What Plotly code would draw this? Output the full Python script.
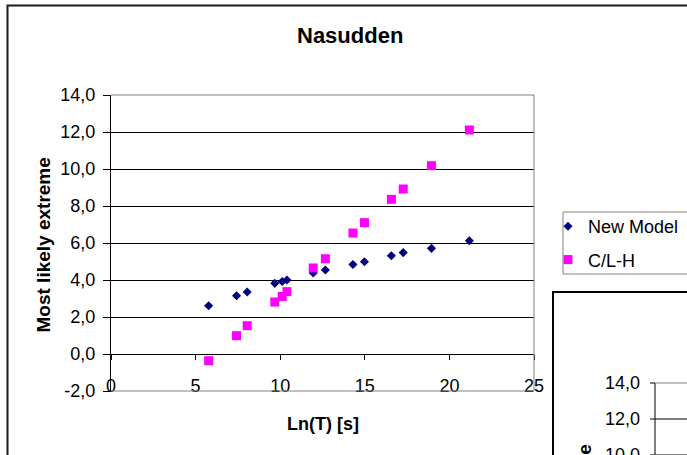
import plotly.graph_objects as go

# ---- data ----
ln_t = [5.77, 7.42, 8.05, 9.68, 10.12, 10.40, 11.95, 12.67, 14.30, 14.98, 16.57, 17.27, 18.94, 21.18]
new_model = [2.61, 3.15, 3.35, 3.82, 3.92, 4.00, 4.38, 4.54, 4.84, 4.99, 5.31, 5.48, 5.71, 6.12]
clh = [-0.36, 0.99, 1.53, 2.81, 3.11, 3.37, 4.65, 5.15, 6.54, 7.10, 8.36, 8.92, 10.18, 12.11]

y_ticks = [-2, 0, 2, 4, 6, 8, 10, 12, 14]
y_tick_text = ["-2,0", "0,0", "2,0", "4,0", "6,0", "8,0", "10,0", "12,0", "14,0"]
x_ticks = [0, 5, 10, 15, 20, 25]
x_tick_text = ["0", "5", "10", "15", "20", "25"]

# second (partially visible) chart tick labels
y2_tick_text = ["14,0", "12,0", "10,0"]

# ---- layout geometry (pixels) ----
W, H = 687, 455
L, R, T, B = 111, 153, 95, 64
PW = W - L - R
PH = H - T - B
FONT = "Liberation Sans, Arial, sans-serif"


def xp(px):
    return (px - L) / PW


def yp(py):
    return (H - B - py) / PH


fig = go.Figure()
fig.add_trace(go.Scatter(
    x=ln_t, y=new_model, mode="markers", name="New Model", legendgroup="a",
    marker=dict(symbol="diamond", size=7, color="#000080"),
))
fig.add_trace(go.Scatter(
    x=ln_t, y=clh, mode="markers", name="C/L-H", legendgroup="b",
    marker=dict(symbol="square", size=9, color="#FF00FF"),
))

shapes = []
# outer frame of main chart
shapes.append(dict(type="rect", xref="paper", yref="paper",
                   x0=xp(7.5), x1=xp(720), y0=yp(5.5), y1=yp(500),
                   line=dict(color="#1a1a1a", width=2), layer="below"))
# plot-area border (top, right, bottom) in grey
for (x0, y0, x1, y1) in [(0, 1, 1, 1), (1, 0, 1, 1), (0, 0, 1, 0)]:
    shapes.append(dict(type="line", xref="paper", yref="paper",
                       x0=x0, y0=y0, x1=x1, y1=y1,
                       line=dict(color="#808080", width=1), layer="above"))
# legend box
shapes.append(dict(type="rect", xref="paper", yref="paper",
                   x0=xp(563), x1=xp(720), y0=yp(212), y1=yp(274),
                   line=dict(color="#808080", width=1), fillcolor="white", layer="below"))
# second chart frame (partially visible)
shapes.append(dict(type="rect", xref="paper", yref="paper",
                   x0=xp(553), x1=xp(720), y0=yp(292), y1=yp(500),
                   line=dict(color="#000000", width=2), fillcolor="white", layer="above"))
# second chart axis line
shapes.append(dict(type="line", xref="paper", yref="paper",
                   x0=xp(655), x1=xp(655), y0=yp(383), y1=yp(470),
                   line=dict(color="#000000", width=1), layer="above"))
for i, py in enumerate([383, 419, 455]):
    shapes.append(dict(type="line", xref="paper", yref="paper",
                       x0=xp(650), x1=xp(655), y0=yp(py), y1=yp(py),
                       line=dict(color="#000000", width=1), layer="above"))
    shapes.append(dict(type="line", xref="paper", yref="paper",
                       x0=xp(655), x1=xp(720), y0=yp(py), y1=yp(py),
                       line=dict(color="#808080" if i == 0 else "#000000", width=1),
                       layer="above"))

annotations = [
    dict(text="Nasudden", xref="paper", yref="paper", x=xp(350), y=yp(35),
         xanchor="center", yanchor="middle", showarrow=False,
         font=dict(family=FONT, size=22, color="black", weight="bold")),
    dict(text="Ln(T) [s]", xref="paper", yref="paper", x=xp(322.5), y=yp(424),
         xanchor="center", yanchor="middle", showarrow=False,
         font=dict(family=FONT, size=18, color="black", weight="bold")),
    dict(text="Most likely extreme", xref="paper", yref="paper", x=xp(42.5), y=yp(245),
         xanchor="center", yanchor="middle", showarrow=False, textangle=-90,
         font=dict(family=FONT, size=19, color="black", weight="bold")),
    dict(text="Most likely extreme", xref="paper", yref="paper", x=xp(584), y=yp(443),
         xanchor="center", yanchor="top", showarrow=False, textangle=-90,
         font=dict(family=FONT, size=19, color="black", weight="bold")),
]
for txt, py in zip(y2_tick_text, [383, 419, 455]):
    annotations.append(dict(text=txt, xref="paper", yref="paper", x=xp(642), y=yp(py),
                            xanchor="right", yanchor="middle", showarrow=False,
                            font=dict(family=FONT, size=18, color="black")))

fig.update_layout(
    width=W, height=H,
    margin=dict(l=L, r=R, t=T, b=B, pad=0, autoexpand=False),
    paper_bgcolor="white", plot_bgcolor="white",
    font=dict(family=FONT, size=18, color="black"),
    showlegend=True,
    legend=dict(x=xp(548), y=yp(208), xanchor="left", yanchor="top",
                bgcolor="rgba(0,0,0,0)", borderwidth=0,
                traceorder="grouped", tracegroupgap=7,
                font=dict(family=FONT, size=18, color="black")),
    xaxis=dict(range=[0, 25], tickvals=x_ticks, ticktext=x_tick_text,
               showgrid=False, zeroline=False, showline=True, linecolor="black", linewidth=1,
               anchor="free", position=0.125, ticks="outside", ticklen=5, tickcolor="black",
               ticklabelstandoff=10, tickfont=dict(family=FONT, size=18, color="black")),
    yaxis=dict(range=[-2, 14], tickvals=y_ticks, ticktext=y_tick_text,
               showgrid=True, gridcolor="black", gridwidth=1, zeroline=False,
               showline=True, linecolor="black", linewidth=1,
               ticks="outside", ticklen=7, tickcolor="black", ticklabelstandoff=4,
               tickfont=dict(family=FONT, size=18, color="black")),
    shapes=shapes,
    annotations=annotations,
)

fig.write_html("out.html")
